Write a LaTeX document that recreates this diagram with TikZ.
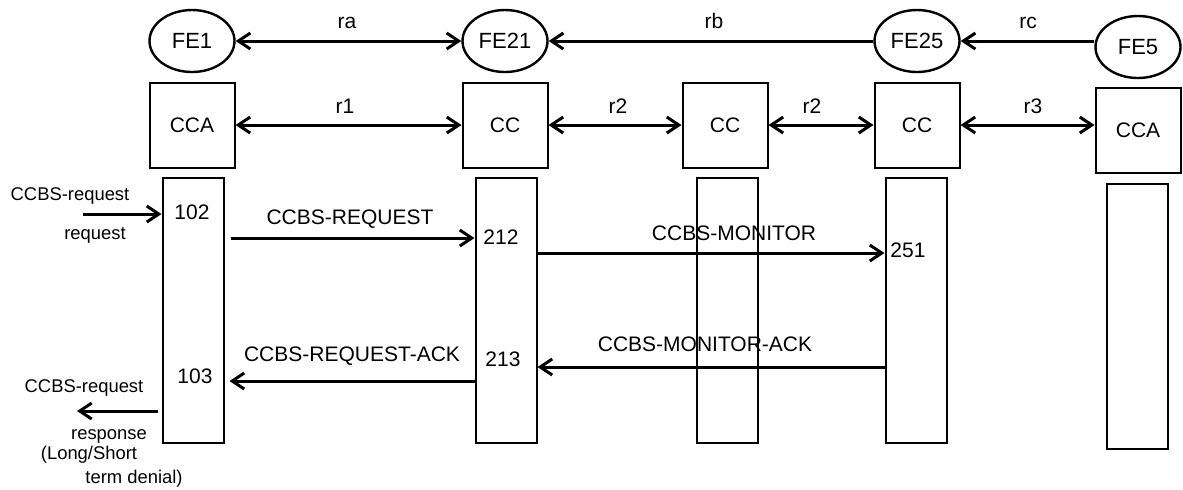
\documentclass[tikz,border=0pt]{standalone}
\usepackage{fontspec}
\setmainfont{Liberation Sans}
\usetikzlibrary{shapes.geometric,arrows.meta}

\begin{document}
\begin{tikzpicture}[x=0.5pt,y=-0.5pt,
  fe/.style={ellipse,draw,line width=1.2pt,minimum width=42.5pt,minimum height=31pt,inner sep=0pt,font=\fontsize{11}{13}\selectfont},
  fbox/.style={rectangle,draw,line width=1pt,minimum width=42.5pt,minimum height=42.5pt,inner sep=0pt,font=\fontsize{10.5}{12}\selectfont},
  life/.style={rectangle,draw,line width=1pt,minimum width=30.5pt,minimum height=132.5pt,inner sep=0pt},
  txt/.style={inner sep=0pt,text height=1.5ex,text depth=.25ex,font=\fontsize{10.5}{12}\selectfont},
  side/.style={txt,font=\fontsize{9.2}{11}\selectfont},
  arr/.style={line width=1.5pt,-{Straight Barb[length=6pt,width=8pt]}},
  both/.style={arr,{Straight Barb[length=6pt,width=8pt]}-{Straight Barb[length=6pt,width=8pt]}}]
  \useasboundingbox (0,0) rectangle (1183,489);

  \node[fe] (FE1)  at (192,41)  {FE1};
  \node[fe] (FE21) at (505,41)  {FE21};
  \node[fe] (FE25) at (917,41)  {FE25};
  \node[fe] (FE5)  at (1138,47) {FE5};
  \node[txt] (ra) at (347,22)  {ra};
  \node[txt] (rb) at (714,22)  {rb};
  \node[txt] (rc) at (1028,22) {rc};
  \draw[both] (FE1) -- (FE21);
  \draw[arr] (FE25) -- (FE21);
  \draw[arr] (FE5.west |- FE25.east) -- (FE25.east);

  \node[fbox] (CCA1) at (192,125)  {CCA};
  \node[fbox] (CC2)  at (505,125)  {CC};
  \node[fbox] (CC3)  at (725,125)  {CC};
  \node[fbox] (CC4)  at (917,125)  {CC};
  \node[fbox] (CCA5) at (1138,130) {CCA};
  \node[txt] (r1)  at (345,107)  {r1};
  \node[txt] (r2a) at (618,107)  {r2};
  \node[txt] (r2b) at (812,107)  {r2};
  \node[txt] (r3)  at (1033,107) {r3};
  \draw[both] (CCA1) -- (CC2);
  \draw[both] (CC2) -- (CC3);
  \draw[both] (CC3) -- (CC4);
  \draw[both] (CC4.east) -- (CCA5.west |- CC4.east);

  \node[life] (L1) at (193,310)  {};
  \node[life] (L2) at (506,310)  {};
  \node[life] (L3) at (727,310)  {};
  \node[life] (L4) at (916,310)  {};
  \node[life] (L5) at (1137,316) {};

  \node[txt] (n102) at (192,213) {102};
  \node[txt] (n212) at (501,238) {212};
  \node[txt] (n251) at (908,251) {251};
  \node[txt] (n213) at (503,360) {213};
  \node[txt] (n103) at (195,377) {103};

  \node[side] (inreq)   at (70,194)  {CCBS-request};
  \node[side] (inreq2)  at (95,233)  {request};
  \node[side] (outreq)  at (84,386)  {CCBS-request};
  \node[side] (outrsp)  at (109,433) {response};
  \node[side] (outlong) at (89,453)  {(Long/Short};
  \node[side] (outterm) at (134,477) {term denial)};

  \node[txt] (lreq)    at (350,218) {CCBS-REQUEST};
  \node[txt] (lmon)    at (734,234) {CCBS-MONITOR};
  \node[txt] (lmonack) at (705,345) {CCBS-MONITOR-ACK};
  \node[txt] (lreqack) at (352,355) {CCBS-REQUEST-ACK};

  \coordinate (mReq)    at (350,238);
  \coordinate (mMon)    at (711,253);
  \coordinate (mMonAck) at (711,367);
  \coordinate (mReqAck) at (352,381);
  \coordinate (inA)     at (83,214);
  \coordinate (outB)    at (77,411);

  \draw[arr] (inA) -- (L1.west |- inA);
  \draw[arr,shorten <=3pt] (L1.east |- mReq) -- (L2.west |- mReq);
  \draw[arr] (L2.east |- mMon) -- (L4.west |- mMon);
  \draw[arr] (L4.west |- mMonAck) -- (L2.east |- mMonAck);
  \draw[arr,shorten >=2.5pt] (L2.west |- mReqAck) -- (L1.east |- mReqAck);
  \draw[arr,shorten <=2pt] (L1.west |- outB) -- (outB);
\end{tikzpicture}
\end{document}
